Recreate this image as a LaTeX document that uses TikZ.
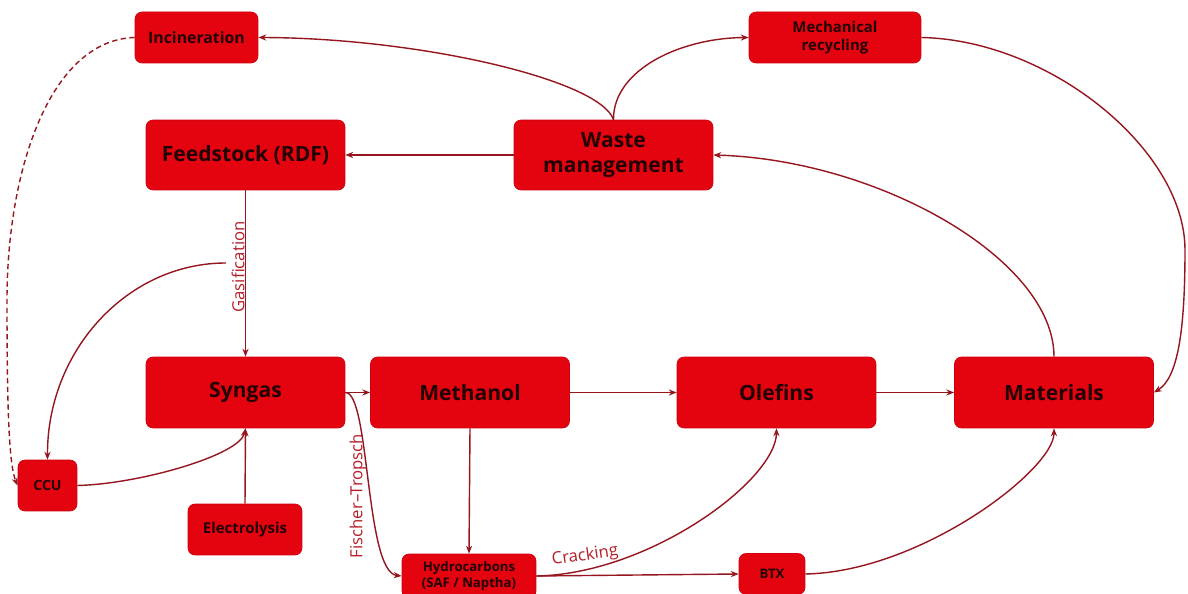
\documentclass[tikz,border=0pt]{standalone}
\usepackage{fontspec}
\setmainfont{Open Sans}
\usetikzlibrary{arrows.meta}
\definecolor{boxred}{RGB}{228,4,16}
\definecolor{boxedge}{RGB}{205,0,14}
\definecolor{linered}{RGB}{150,22,32}
\definecolor{labred}{RGB}{180,30,40}
\definecolor{txt}{RGB}{35,0,0}
\begin{document}
\begin{tikzpicture}[x=0.02cm,y=-0.02cm,
  box/.style={draw=boxedge,fill=boxred,rounded corners=4pt,text=txt,align=center,inner sep=0pt},
  big/.style={box,minimum width=3.98cm,minimum height=1.42cm,font=\bfseries\fontsize{12}{14}\selectfont},
  small/.style={box,minimum height=1.02cm,font=\bfseries\fontsize{9}{10.5}\selectfont},
  conn/.style={draw=linered,line width=0.8pt,-{Stealth[length=4.5pt,width=3.5pt]}},
  dconn/.style={conn,dash pattern=on 3pt off 2pt},
  lab/.style={text=labred,font=\fontsize{9.5}{11}\selectfont,inner sep=0pt}]
\useasboundingbox (0,0) rectangle (1188,594);
\fill[white] (0,0) rectangle (1188,594);

% nodes
\node[small,minimum width=2.46cm] (inc) at (196.5,37.5) {Incineration};
\node[small,minimum width=3.44cm,font=\bfseries\fontsize{8.5}{10.5}\selectfont] (mech) at (835,37.5) {Mechanical\\recycling};
\node[big,minimum height=1.40cm] (feed) at (245.5,155) {Feedstock (RDF)};
\node[big,minimum height=1.40cm] (waste) at (613.5,155) {Waste\\management};
\node[big] (syn) at (245.5,392.5) {Syngas};
\node[big] (meth) at (470,392.5) {Methanol};
\node[big] (ole) at (776.5,392.5) {Olefins};
\node[big] (mat) at (1054,392.5) {Materials};
\node[small,minimum width=1.18cm,font=\bfseries\fontsize{8}{9}\selectfont] (ccu) at (47.5,485.5) {CCU};
\node[small,minimum width=2.28cm,font=\bfseries\fontsize{8.5}{10}\selectfont] (elec) at (245,529.5) {Electrolysis};
\node[box,minimum width=2.68cm,minimum height=0.88cm,font=\bfseries\fontsize{7.5}{9.5}\selectfont] (hyd) at (469,576) {Hydrocarbons\\(SAF / Naptha)};
\node[box,minimum width=1.32cm,minimum height=0.82cm,font=\bfseries\fontsize{7.5}{9}\selectfont] (btx) at (772,574) {BTX};

% labels
\node[lab,rotate=90] (gaslab) at (238,267) {Gasification};
\node[lab,rotate=90] (ftlab) at (358,496) {Fischer–Tropsch};
\node[lab,rotate=8] (crlab) at (585,556) {Cracking};

\coordinate (gstart) at (226,263);

% connectors
\draw[conn] (waste.north) .. controls (600,80) and (420,38) .. (inc.east);
\draw[conn] (waste.north) .. controls (613,70) and (680,38) .. (mech.west);
\draw[conn] (waste.west) -- (feed.east);
\draw[conn] (mech.east) .. controls (1050,40) and (1185,150) .. (1185,250)
  .. controls (1185,330) and (1178,378) .. (mat.east);
\draw[conn] (mat.north) .. controls (1054,260) and (880,160) .. (waste.east);
\draw[conn] (feed.south) -- (syn.north);
\draw[conn] (gstart) .. controls (127,263) and (47,351) .. (ccu.north);
\draw[conn] (ccu.east) .. controls (140,484) and (240,455) .. (syn.south);
\draw[conn] (elec.north) -- (syn.south);
\draw[dconn] (inc.west) .. controls (50,40) and (7,170) .. (7,300)
  .. controls (7,410) and (9,465) .. (ccu.west);
\draw[conn] (syn.east) -- (meth.west);
\draw[conn] (syn.east) .. controls (370,392) and (365,572) .. (hyd.west);
\draw[conn] (meth.south) -- (hyd.north);
\draw[conn] (meth.east) -- (ole.west);
\draw[conn] (ole.east) -- (mat.west);
\draw[conn] (hyd.east) -- (btx.west);
\draw[conn] (hyd.east) .. controls (650,574) and (776,480) .. (ole.south);
\draw[conn] (btx.east) .. controls (920,572) and (1054,470) .. (mat.south);
\end{tikzpicture}
\end{document}
